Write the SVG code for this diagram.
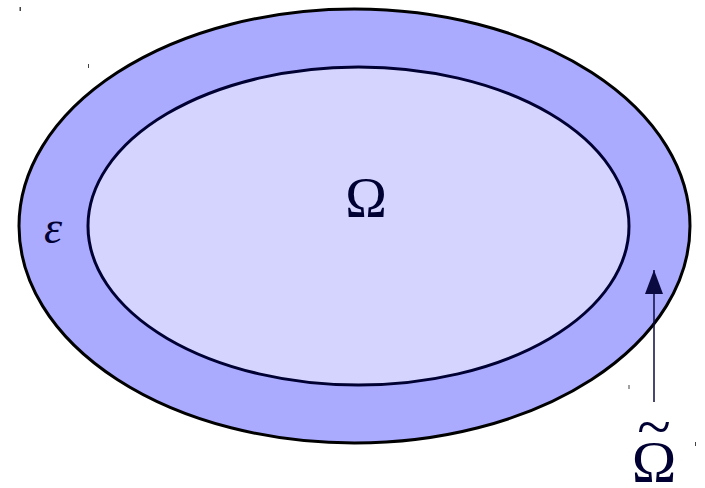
<svg xmlns="http://www.w3.org/2000/svg" width="705" height="488" viewBox="0 0 705 488">
<style>
.lbl{font-family:"Liberation Serif","DejaVu Serif",serif;fill:#000033}
.tick{fill:#444}
</style>
<defs>
<marker id="ah" viewBox="0 0 24 18" refX="24" refY="9" markerWidth="24" markerHeight="18" markerUnits="userSpaceOnUse" orient="auto">
<path d="M0,0 L24,9 L0,18 Z" fill="#0a0a40"/>
</marker>
</defs>
<rect width="705" height="488" fill="#fff"/>
<g id="outer">
<ellipse cx="354.5" cy="226" rx="335.5" ry="217" fill="#aaaaff" stroke="#000" stroke-width="3"/>
</g>
<g id="inner">
<ellipse cx="358.5" cy="226" rx="270.5" ry="159" fill="#d4d4ff" stroke="#000033" stroke-width="3"/>
<text class="lbl" x="366" y="217" font-size="56" text-anchor="middle">Ω</text>
</g>
<g id="epsilon">
<text class="lbl" x="53" y="243" font-size="46" font-style="italic" text-anchor="middle">ε</text>
</g>
<g id="connectors">
<line x1="654" y1="402" x2="654" y2="270" stroke="#0a0a40" stroke-width="1.5" marker-end="url(#ah)"/>
</g>
<g id="omega-tilde">
<text class="lbl" text-anchor="middle"><tspan x="654" y="482" font-size="60">Ω</tspan><tspan x="654" y="447" font-size="62">~</tspan></text>
</g>
<rect class="tick" x="19.5" y="7" width="1.5" height="4"/>
<rect class="tick" x="88" y="64" width="1" height="4"/>
<rect class="tick" x="628.5" y="385" width="1" height="4"/>
<rect class="tick" x="695" y="442" width="1" height="4"/>
</svg>
